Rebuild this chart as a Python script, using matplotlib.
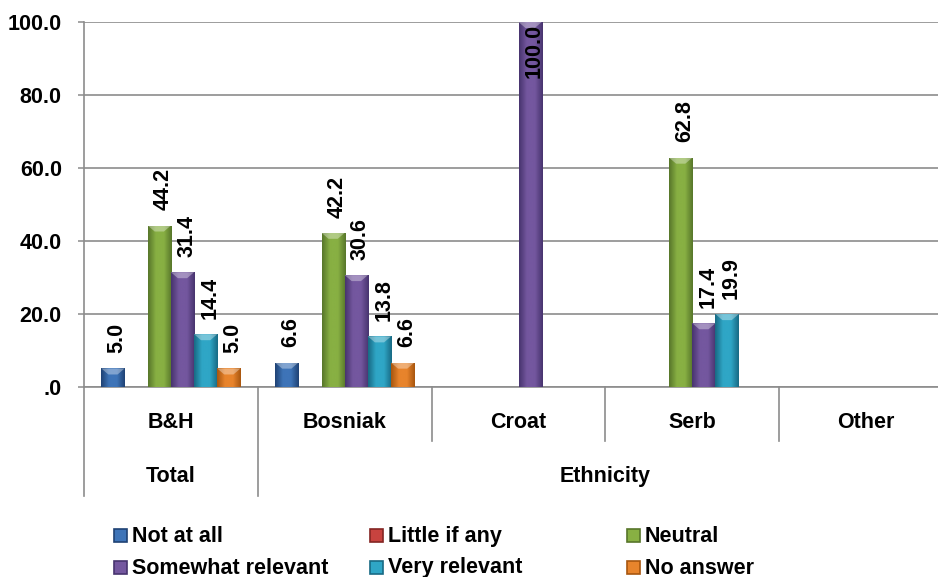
import numpy as np
import matplotlib
matplotlib.use("Agg")
import matplotlib.pyplot as plt
from matplotlib.colors import LinearSegmentedColormap, to_rgb
from matplotlib.patches import Rectangle, Polygon
from matplotlib.transforms import blended_transform_factory

nan = np.nan

categories = ["B&H", "Bosniak", "Croat", "Serb", "Other"]
group_labels = ["Total", "Ethnicity"]
group_spans = [(0, 0), (1, 4)]

series_names = ["Not at all", "Little if any", "Neutral",
                "Somewhat relevant", "Very relevant", "No answer"]
not_at_all = [5.0, 6.6, nan, nan, nan]
little_if_any = [nan, nan, nan, nan, nan]
neutral = [44.2, 42.2, nan, 62.8, nan]
somewhat_relevant = [31.4, 30.6, 100.0, 17.4, nan]
very_relevant = [14.4, 13.8, nan, 19.9, nan]
no_answer = [5.0, 6.6, nan, nan, nan]
series_values = [not_at_all, little_if_any, neutral,
                 somewhat_relevant, very_relevant, no_answer]

y_ticks = [0, 20, 40, 60, 80, 100]
y_tick_labels = [".0", "20.0", "40.0", "60.0", "80.0", "100.0"]

# base colours (edge, centre) for each series
series_colors = [
    ("#1f4274", "#3e74b8"),
    ("#842523", "#c8433f"),
    ("#57762a", "#88b043"),
    ("#47346e", "#74579f"),
    ("#186a84", "#2fa6c6"),
    ("#a8560f", "#e8842c"),
]

FONT = "Liberation Sans"
FS = 15.5
GRID = "#8c8c8c"

plt.rcParams["font.family"] = [FONT, "DejaVu Sans"]
plt.rcParams["font.weight"] = "bold"

W, H = 938, 577
fig = plt.figure(figsize=(W / 100, H / 100), dpi=100)
ax_left, ax_right, ax_top, ax_bottom = 84, 953, 22, 386.7
ax = fig.add_axes([ax_left / W, 1 - ax_bottom / H,
                   (ax_right - ax_left) / W, (ax_bottom - ax_top) / H])

n_series = len(series_names)
group_width = 0.8
bar_w = group_width / n_series
x = np.arange(len(categories))

ax.set_xlim(-0.5, len(categories) - 0.5)
ax.set_ylim(0, 100)

px_per_unit = (ax_bottom - ax_top) / 100.0

for i, (name, vals, (dark, light)) in enumerate(zip(series_names, series_values, series_colors)):
    offs = -group_width / 2 + bar_w * (i + 0.5)
    heights = np.array(vals, dtype=float)
    bars = ax.bar(x + offs, np.nan_to_num(heights), width=bar_w,
                  color=light, edgecolor="none", zorder=3, label=name)
    cmap = LinearSegmentedColormap.from_list(
        name, [dark, light, light, to_rgb(dark)], N=256)
    grad = np.linspace(0, 1, 64).reshape(1, -1)
    for bar, h in zip(bars, heights):
        if np.isnan(h) or h <= 0:
            bar.set_visible(False)
            continue
        x0, bw = bar.get_x(), bar.get_width()
        im = ax.imshow(grad, extent=[x0, x0 + bw, 0, h], aspect="auto",
                       cmap=cmap, zorder=3.5, interpolation="bicubic")
        im.set_clip_path(bar)
        # light bevel cap on top of the bar
        cap_h = 6 / px_per_unit
        cap = Polygon([[x0, h], [x0 + bw, h], [x0 + bw * 0.7, h - cap_h],
                       [x0 + bw * 0.3, h - cap_h]], closed=True,
                      facecolor="white", alpha=0.35, edgecolor="none", zorder=4)
        ax.add_patch(cap)
        # value label
        if h >= 95:
            ax.annotate(f"{h:.1f}", (x0 + bw / 2, h), xytext=(3, -1.5),
                        textcoords="offset points", rotation=90,
                        ha="center", va="top", fontsize=FS,
                        fontweight="bold", zorder=6)
        else:
            ax.annotate(f"{h:.1f}", (x0 + bw / 2, h), xytext=(3, 11),
                        textcoords="offset points", rotation=90,
                        ha="center", va="bottom", fontsize=FS,
                        fontweight="bold", zorder=6)

ax.set_xlim(-0.5, len(categories) - 0.5)
ax.set_ylim(0, 100)

# gridlines and spines
ax.set_yticks(y_ticks)
ax.set_yticklabels(y_tick_labels, fontsize=FS, fontweight="bold")
ax.yaxis.grid(True, color=GRID, linewidth=1.2, zorder=0)
ax.set_axisbelow(True)
ax.tick_params(axis="y", length=4, width=1.1, color=GRID, pad=12)
ax.set_xticks([])
for s in ["top", "right"]:
    ax.spines[s].set_visible(False)
for s in ["left", "bottom"]:
    ax.spines[s].set_color(GRID)
    ax.spines[s].set_linewidth(1.2)

# multi-level category axis
trans = blended_transform_factory(ax.transData, ax.transAxes)
axis_h = ax_bottom - ax_top
row1_end = -(441 - ax_bottom) / axis_h
row2_end = -(496 - ax_bottom) / axis_h
row1_y = -(422.5 - ax_bottom) / axis_h
row2_y = -(477 - ax_bottom) / axis_h

group_edges = set()
for a, b in group_spans:
    group_edges.add(a - 0.5)
    group_edges.add(b + 0.5)
for edge in np.arange(-0.5, len(categories), 1.0):
    end = row2_end if edge in group_edges else row1_end
    ax.plot([edge, edge], [0, end], transform=trans, color=GRID,
            linewidth=1.2, clip_on=False, zorder=2)

for xi, cat in zip(x, categories):
    ax.text(xi, row1_y, cat, transform=trans, ha="center", va="center",
            fontsize=FS, fontweight="bold")
for label, (a, b) in zip(group_labels, group_spans):
    ax.text((a + b) / 2, row2_y, label, transform=trans, ha="center",
            va="center", fontsize=FS, fontweight="bold")

# legend: three columns, filled row by row
leg_cols = [114, 370, 627]
leg_rows = [536.5, 568]
for i, (name, (dark, light)) in enumerate(zip(series_names, series_colors)):
    cx = leg_cols[i % 3]
    cy = leg_rows[i // 3]
    sq = 13
    fig.add_artist(Rectangle((cx / W, 1 - (cy + sq / 2 - 1) / H), sq / W, sq / H,
                             transform=fig.transFigure, facecolor=light,
                             edgecolor=dark, linewidth=1.2))
    fig.text((cx + 18) / W, 1 - cy / H, name, ha="left", va="center",
             fontsize=FS, fontweight="bold")

fig.savefig("out.png", dpi=100)
